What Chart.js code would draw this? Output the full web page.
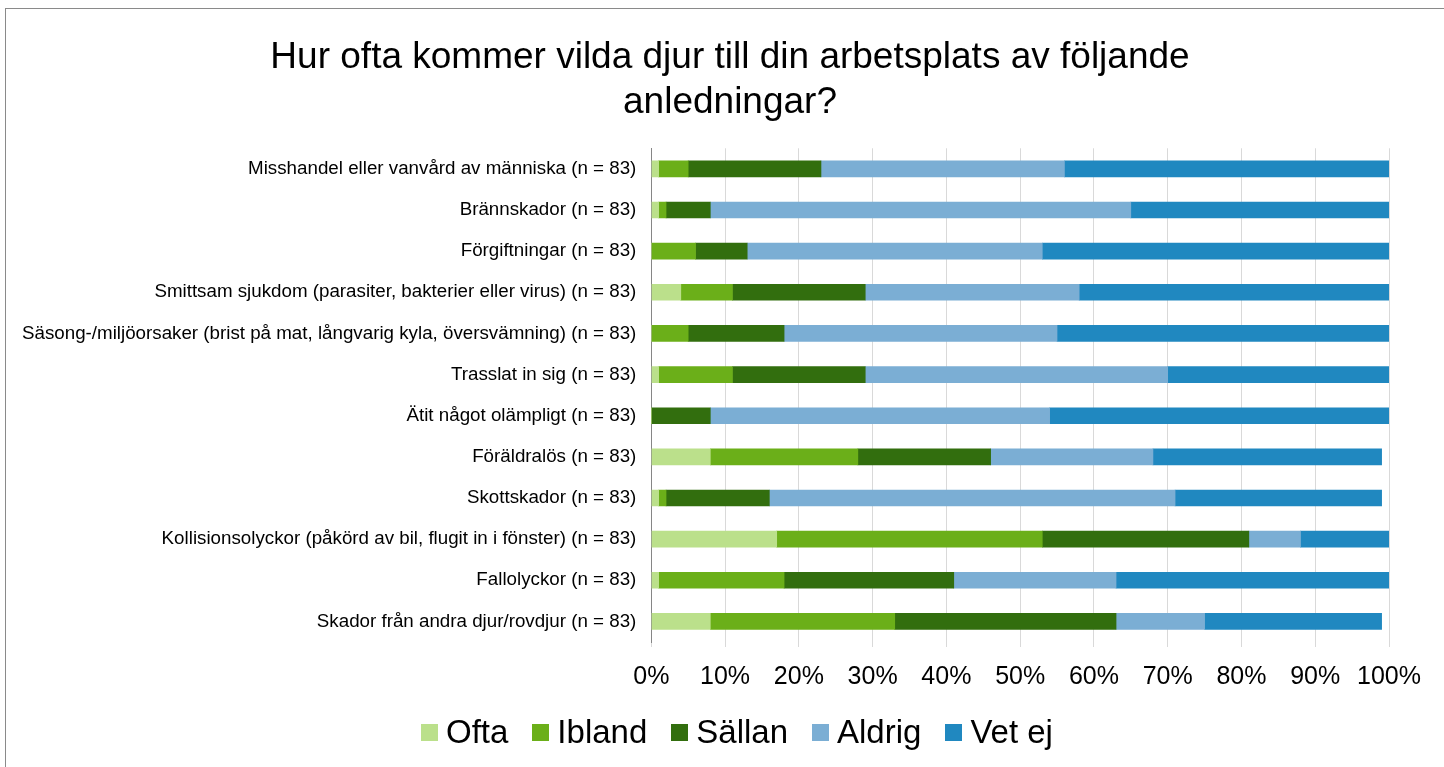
<!DOCTYPE html>
<html>
<head>
<meta charset="utf-8">
<script src="https://cdn.jsdelivr.net/npm/chart.js@4/dist/chart.umd.min.js"></script>
<style>
  html, body { margin: 0; padding: 0; background: #fff; }
  #wrap { position: relative; width: 1444px; height: 767px; overflow: hidden; }
  #frame { position: absolute; left: 5px; top: 8px; width: 1460px; height: 800px; border-left: 1px solid #8a8a8a; border-top: 1px solid #8a8a8a; box-sizing: border-box; pointer-events: none; }
  canvas { position: absolute; left: 0; top: 0; }
  #legend { position: absolute; left: 421px; top: 713px; display: flex; align-items: center; font-family: "Liberation Sans", Arial, sans-serif; font-size: 33px; color: #000; white-space: nowrap; }
  .item { display: flex; align-items: center; margin-right: 24px; }
  .box { width: 17px; height: 17px; margin-right: 8px; }
</style>
</head>
<body>
<div id="wrap">
  <canvas id="c" width="1444" height="767"></canvas>
  <div id="frame"></div>
  <div id="legend"></div>
</div>
<script>
const categories = [
  'Misshandel eller vanvård av människa (n = 83)',
  'Brännskador (n = 83)',
  'Förgiftningar (n = 83)',
  'Smittsam sjukdom (parasiter, bakterier eller virus) (n = 83)',
  'Säsong-/miljöorsaker (brist på mat, långvarig kyla, översvämning) (n = 83)',
  'Trasslat in sig (n = 83)',
  'Ätit något olämpligt (n = 83)',
  'Föräldralös (n = 83)',
  'Skottskador (n = 83)',
  'Kollisionsolyckor (påkörd av bil, flugit in i fönster) (n = 83)',
  'Fallolyckor (n = 83)',
  'Skador från andra djur/rovdjur (n = 83)'
];
const seriesNames = ['Ofta', 'Ibland', 'Sällan', 'Aldrig', 'Vet ej'];
const ofta   = [1, 1, 0, 4, 0, 1, 0, 8, 1, 17, 1, 8];
const ibland = [4, 1, 6, 7, 5, 10, 0, 20, 1, 36, 17, 25];
const sallan = [18, 6, 7, 18, 13, 18, 8, 18, 14, 28, 23, 30];
const aldrig = [33, 57, 40, 29, 37, 41, 46, 22, 55, 7, 22, 12];
const vetej  = [44, 35, 47, 42, 45, 30, 46, 31, 28, 12, 37, 24];
const xTicks = [0, 10, 20, 30, 40, 50, 60, 70, 80, 90, 100];
const titleLines = ['Hur ofta kommer vilda djur till din arbetsplats av följande', 'anledningar?'];

const colors = ['#BBE08B', '#6BAF19', '#326E0E', '#7BAED4', '#2088C0'];
const values = [ofta, ibland, sallan, aldrig, vetej];

const FONT = '"Liberation Sans", Arial, sans-serif';

const datasets = seriesNames.map((name, i) => ({
  label: name,
  data: values[i],
  backgroundColor: colors[i],
  borderWidth: 0,
  barThickness: 16
}));

new Chart(document.getElementById('c'), {
  type: 'bar',
  data: { labels: categories, datasets },
  options: {
    indexAxis: 'y',
    responsive: false,
    animation: false,
    layout: { padding: { left: 71, right: 55, top: 0, bottom: 60 } },
    plugins: {
      legend: { display: false },
      tooltip: { enabled: false },
      title: {
        display: true,
        text: titleLines,
        color: '#000',
        font: { family: FONT, size: 37, weight: 'normal', lineHeight: 1.22 },
        padding: { top: 35, bottom: 23 }
      }
    },
    scales: {
      x: {
        stacked: true,
        min: 0,
        max: 100,
        afterBuildTicks: (s) => { s.ticks = xTicks.map(v => ({ value: v })); },
        ticks: {
          color: '#000',
          font: { family: FONT, size: 25 },
          padding: 15,
          maxRotation: 0,
          callback: (v) => v + '%'
        },
        grid: { color: '#D9D9D9', lineWidth: 1, drawTicks: true, tickLength: 5 },
        border: { display: false }
      },
      y: {
        stacked: true,
        afterFit: (s) => {
          s.width = 651.3 - 71;
          s._computeLabelArea = () => undefined;
        },
        ticks: {
          color: '#000',
          font: { family: FONT, size: 18.75 },
          padding: 15,
          autoSkip: false
        },
        grid: { display: false, drawTicks: false },
        border: { display: true, color: '#868686', width: 1 }
      }
    }
  }
});

const legend = document.getElementById('legend');
seriesNames.forEach((name, i) => {
  const item = document.createElement('div');
  item.className = 'item';
  const box = document.createElement('div');
  box.className = 'box';
  box.style.background = colors[i];
  const txt = document.createElement('span');
  txt.textContent = name;
  item.appendChild(box);
  item.appendChild(txt);
  legend.appendChild(item);
});
</script>
</body>
</html>
